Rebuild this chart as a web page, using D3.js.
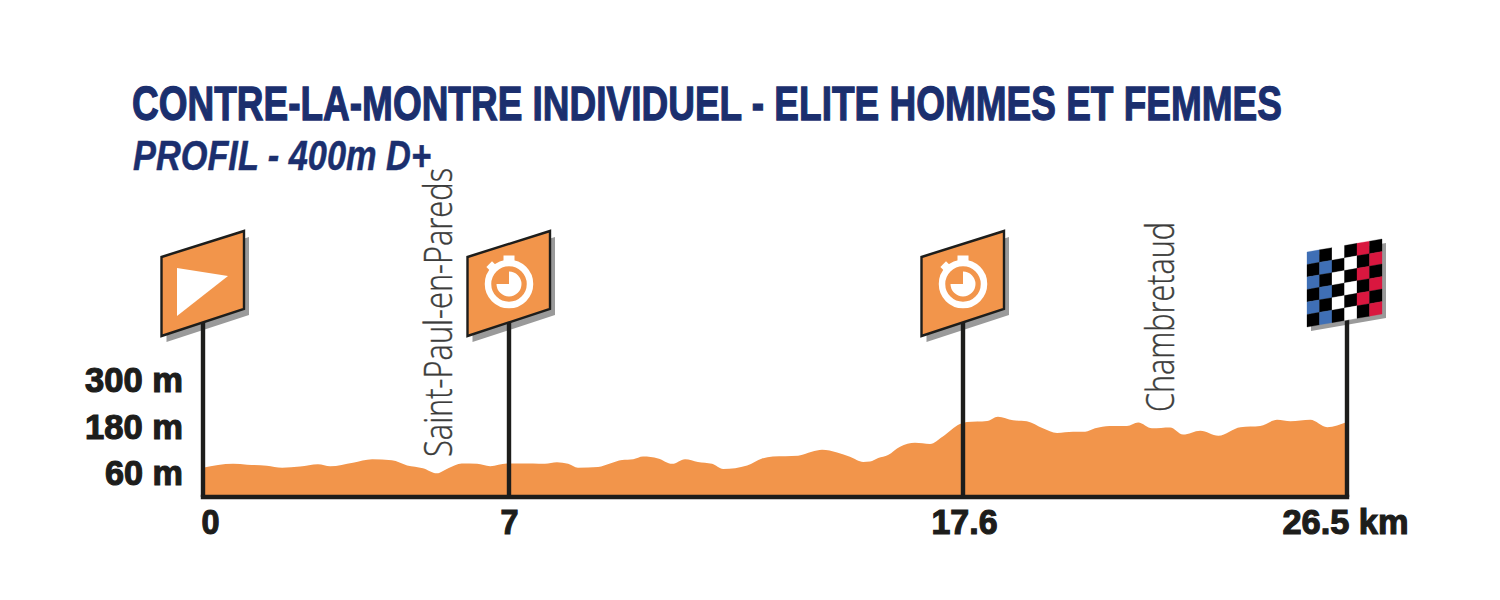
<!DOCTYPE html>
<html><head><meta charset="utf-8">
<script src="https://cdn.jsdelivr.net/npm/d3@7"></script>
<style>html,body{margin:0;padding:0;background:#fff}svg{display:block}</style>
</head><body><svg id="c" width="1500" height="600"></svg>
<script>
const titleText = "CONTRE-LA-MONTRE INDIVIDUEL - ELITE HOMMES ET FEMMES";
const subtitleText = "PROFIL - 400m D+";
const distances = [0,0.69,1.01,1.46,1.81,2.22,2.63,2.91,3.43,3.87,4.32,4.67,5.03,5.35,5.61,5.92,6.27,6.57,6.95,7.56,7.84,8.12,8.38,8.61,9.08,9.36,9.64,9.9,10.13,10.48,10.81,11.11,11.41,11.74,12,12.56,12.91,13.16,13.75,14.07,14.31,14.66,14.96,15.27,15.43,15.62,15.85,16.13,16.48,16.83,17.13,17.53,17.69,18.16,18.41,18.76,19.08,19.45,19.78,20.15,20.43,20.66,21,21.4,21.66,21.98,22.4,22.7,23.1,23.52,24.03,24.49,24.88,25.19,25.65,26.04,26.5];
const elevations = [75,85,83,80,75,78,84,79,88,97,94,81,74,61,74,86,85,79,86,86,85,89,85,75,77,86,95,97,104,99,85,97,90,85,72,81,99,104,106,116,121,114,103,90,91,100,108,129,139,136,155,187,192,195,206,197,194,176,164,167,167,176,182,182,191,176,178,160,170,157,179,182,198,194,198,179,192];
const xTicks = [0,7,17.6,26.5];
const xTickLabels = ["0","7","17.6","26.5 km"];
const yTicks = [60,180,300];
const flagKm = [0,7,17.6];
const flagKinds = ["start","timer","timer"];
const finishKm = [26.5];
const placeNames = ["Saint-Paul-en-Pareds","Chambretaud"];
const placeKm = [5.7,22.5];
const checkerColors = ["#3f6fb5","#3f6fb5","#ffffff","#ffffff","#d9173f","#d9173f"];

const NAVY="#1b2f6e", INK="#1d1d1b", ORANGE="#f2954b", SHADOW="#9a9a9a";
const BOLD="'Liberation Sans',Arimo,sans-serif";
const svg=d3.select("#c");
const x=d3.scaleLinear().domain(xTicks).range([203,509,963,1347]);
const y=d3.scaleLinear().domain([0,300]).range([497,380]);

// fit a text to a target width by squeezing it horizontally
function fit(sel,px,py,w){
  const n=sel.node().getComputedTextLength();
  sel.attr("transform",`translate(${px},${py}) scale(${w/n},1)`);
}

// titles
svg.append("text").text(titleText)
  .attr("font-family",BOLD).attr("font-weight",700).attr("font-size",49)
  .attr("fill",NAVY).attr("stroke",NAVY).attr("stroke-width",1.3)
  .call(fit,132,120,1150);
svg.append("text").text(subtitleText)
  .attr("font-family",BOLD).attr("font-weight",700).attr("font-style","italic").attr("font-size",43)
  .attr("fill",NAVY).attr("stroke",NAVY).attr("stroke-width",.5)
  .call(fit,133,169.5,298);

// profile area
const pts=d3.zip(distances,elevations);
svg.append("path").datum(pts)
  .attr("d",d3.area().x(d=>x(d[0])).y0(y(0)).y1(d=>y(d[1])).curve(d3.curveMonotoneX))
  .attr("fill",ORANGE);

// flag geometry and shadows, under the poles
const pPts="-41.5,257 41,231 41,309 -41.5,336";
const fx0=-40, fw=75, ny=6;
const corner=(c,r)=>[fx0+fw*c/ny, 252+(-13)*c/ny+75*r/ny];
svg.selectAll("polygon.pshadow").data(flagKm).join("polygon").attr("class","pshadow")
  .attr("points",pPts).attr("transform",d=>`translate(${x(d)+5},6)`).attr("fill",SHADOW);
svg.selectAll("polygon.fshadow").data(finishKm).join("polygon").attr("class","fshadow")
  .attr("points",[[0,0],[6,0],[6,6],[0,6]].map(p=>corner(...p).join(",")).join(" "))
  .attr("transform",d=>`translate(${x(d)+4},4)`).attr("fill",SHADOW);

// poles
const allPoles=flagKm.concat(finishKm);
svg.selectAll("line.pole").data(allPoles).join("line").attr("class","pole")
  .attr("x1",d=>x(d)).attr("x2",d=>x(d)).attr("y1",y(0))
  .attr("y2",318).attr("stroke",INK).attr("stroke-width",4.4);

// axes
const ax=svg.append("g").attr("transform",`translate(0,${y(0)})`)
  .call(d3.axisBottom(x).tickValues(xTicks).tickSize(0).tickPadding(12)
    .tickFormat((d,i)=>xTickLabels[i]));
ax.select(".domain").attr("stroke",INK).attr("stroke-width",4.4).attr("d",`M${x(0)-2.2},0H${x(26.5)+2.2}`);
ax.selectAll("text").attr("font-family",BOLD).attr("font-weight",700).attr("font-size",35)
  .attr("fill",INK).attr("stroke",INK).attr("stroke-width",1.2)
  .attr("dx",(d,i)=>[7,0,1,-2][i]).attr("dy","0.72em")
  .attr("textLength",(d,i)=>[18,18,66,126][i]).attr("lengthAdjust","spacingAndGlyphs");
const ay=svg.append("g").attr("transform","translate(183,0)")
  .call(d3.axisLeft(y).tickValues(yTicks).tickSize(0).tickPadding(0).tickFormat(d=>d+" m"));
ay.select(".domain").remove();
ay.selectAll("text").attr("font-family",BOLD).attr("font-weight",700).attr("font-size",35)
  .attr("fill",INK).attr("stroke",INK).attr("stroke-width",1.2)
  .attr("textLength",d=>d<100?78:98).attr("lengthAdjust","spacingAndGlyphs");

// panel flags
const panel=svg.selectAll("g.flag").data(flagKm).join("g").attr("class","flag")
  .attr("transform",d=>`translate(${x(d)},0)`);
panel.append("polygon").attr("points",pPts).attr("fill",ORANGE).attr("stroke",INK).attr("stroke-width",2.4);
panel.filter((d,i)=>flagKinds[i]==="start").append("polygon")
  .attr("points","-26,268 25,276 -26,316").attr("fill","#fff");
const timer=panel.filter((d,i)=>flagKinds[i]==="timer").append("g").attr("transform","translate(0,284)");
timer.append("circle").attr("r",21).attr("fill","none").attr("stroke","#fff").attr("stroke-width",6.5);
timer.append("rect").attr("x",-5.5).attr("y",-28.5).attr("width",11).attr("height",7).attr("fill","#fff");
timer.append("rect").attr("x",-4).attr("y",-28).attr("width",8).attr("height",7).attr("fill","#fff")
  .attr("transform","rotate(-45)");
timer.append("path").attr("d",d3.arc()({innerRadius:0,outerRadius:12.5,startAngle:0,endAngle:Math.PI*1.5})).attr("fill","#fff");

// finish flag
const finish=svg.selectAll("g.finish").data(finishKm).join("g").attr("class","finish")
  .attr("transform",d=>`translate(${x(d)},0)`);
const cells=d3.cross(d3.range(ny),d3.range(ny));
finish.selectAll("polygon.cell").data(cells).join("polygon").attr("class","cell")
  .attr("points",([c,r])=>[[c,r],[c+1,r],[c+1,r+1],[c,r+1]].map(p=>corner(...p).join(",")).join(" "))
  .attr("fill",([c,r])=>(c+r)%2===0?checkerColors[c]:"#000")
  .attr("stroke",([c,r])=>(c+r)%2===0?checkerColors[c]:"#000").attr("stroke-width",.3);

// place names
svg.selectAll("text.place").data(placeNames).join("text").attr("class","place")
  .attr("transform",(d,i)=>`translate(${x(placeKm[i])},${i===0?457:412}) rotate(-90)`)
  .text(d=>d).attr("font-family","'Open Sans',sans-serif").attr("font-weight",300).attr("font-size",39)
  .attr("fill","#3c3c3b").attr("stroke","#3c3c3b").attr("stroke-width",.4)
  .attr("textLength",(d,i)=>[289,190][i]).attr("lengthAdjust","spacingAndGlyphs");
</script></body></html>
